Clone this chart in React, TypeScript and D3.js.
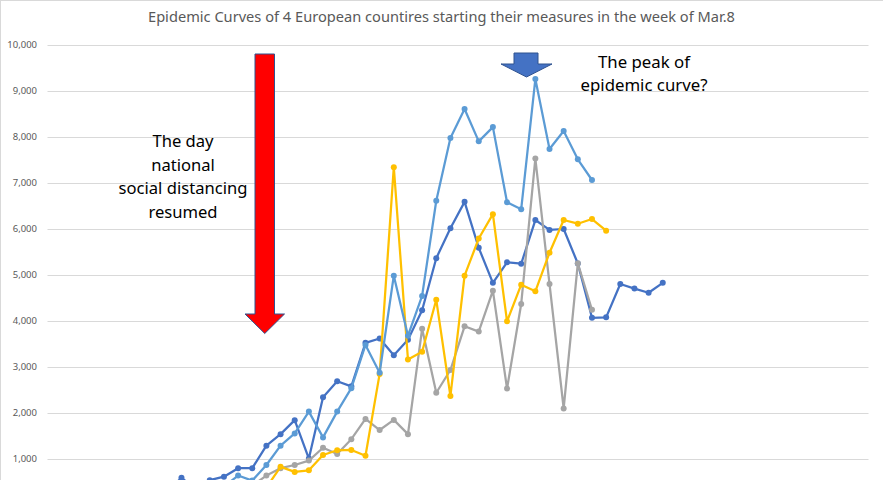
import React from "react";
import * as d3 from "d3";

// 58 daily category slots on the x axis (labels cropped out of the picture)
const days: string[] = d3.range(1, 59).map((d) => String(d));

const seriesDarkBlue: (number | null)[] = [
  null, null, null, null, null, null, null, null, 300, 590, 350, 540, 615, 800, 800, 1290,
  1540, 1845, 1010, 2345, 2690, 2580, 3525, 3620, 3255, 3590, 4235, 5365, 6015, 6590, 5590,
  4830, 5275, 5245, 6195, 5980, 6000, 5250, 4070, 4080, 4805, 4705, 4615, 4830,
];
const seriesGrey: (number | null)[] = [
  null, null, null, null, null, null, null, null, null, null, null, null, null, null, 420, 640,
  800, 870, 965, 1245, 1110, 1430, 1870, 1630, 1850, 1540, 3830, 2440, 2935, 3885, 3770,
  4660, 2530, 4370, 7530, 4805, 2100, 5255, 4245,
];
const seriesYellow: (number | null)[] = [
  null, null, null, null, null, null, null, null, null, null, null, null, null, null, null, 380,
  830, 720, 755, 1087, 1190, 1196, 1072, 2850, 7344, 3163, 3330, 4461, 2370, 4985, 5793,
  6322, 3993, 4789, 4645, 5485, 6196, 6115, 6217, 5963,
];
const seriesLightBlue: (number | null)[] = [
  null, null, null, null, null, null, null, null, null, null, null, null, 400, 640, 530, 870,
  1290, 1555, 2030, 1470, 2030, 2540, 3480, 2875, 4985, 3680, 4545, 6615, 7980, 8610, 7905,
  8215, 6580, 6430, 9260, 7740, 8130, 7515, 7065,
];

const yTicks: number[] = [1000, 2000, 3000, 4000, 5000, 6000, 7000, 8000, 9000, 10000];

const title = "Epidemic Curves of 4 European countires starting their measures in the week of Mar.8";
const leftNote = ["The day", "national", "social distancing", "resumed"];
const rightNote = ["The peak of", "epidemic curve?"];

const seriesList = [
  { values: seriesDarkBlue, color: "#4472C4" },
  { values: seriesGrey, color: "#A5A5A5" },
  { values: seriesYellow, color: "#FFC000" },
  { values: seriesLightBlue, color: "#5B9BD5" },
];

const W = 883;
const H = 480;
const FONT = "'Noto Sans', 'Open Sans', sans-serif";

export default function App() {
  const x = d3.scaleBand<string>().domain(days).range([47, 868]);
  const cx = (i: number) => (x(days[i]) as number) + x.bandwidth() / 2;
  const y = d3.scaleLinear().domain([0, 10000]).range([505, 45]);
  const fmt = d3.format(",");

  const line = d3
    .line<{ i: number; v: number | null }>()
    .defined((d) => d.v !== null)
    .x((d) => cx(d.i))
    .y((d) => y(d.v as number));

  // annotation arrows
  const red = { x0: 255, x1: 274.5, top: 54, headY: 314, tip: 333.5, hx0: 245, hx1: 284.5 };
  const blue = { x0: 514, x1: 538, top: 53, headY: 64, tip: 77, hx0: 501, hx1: 552 };
  const arrowPath = (a: typeof red) => {
    const mid = (a.hx0 + a.hx1) / 2;
    return `M${a.x0},${a.top}H${a.x1}V${a.headY}H${a.hx1}L${mid},${a.tip}L${a.hx0},${a.headY}H${a.x0}Z`;
  };

  return (
    <svg
      width={W}
      height={H}
      style={{ position: "absolute", left: 0, top: 0, background: "#fff" }}
      fontFamily={FONT}
    >
      <rect x={0.5} y={0.5} width={W + 10} height={H + 10} fill="#fff" stroke="#D9D9D9" strokeWidth={1} />
      <text
        x={441.5}
        y={22}
        textAnchor="middle"
        fontSize={14}
        fill="#595959"
        textLength={587}
        lengthAdjust="spacingAndGlyphs"
      >
        {title}
      </text>
      {yTicks.map((t) => (
        <g key={t}>
          <line x1={47.5} x2={868.5} y1={Math.round(y(t)) + 0.5} y2={Math.round(y(t)) + 0.5} stroke="#D9D9D9" strokeWidth={1} />
          <text x={37} y={y(t)} dy="0.35em" textAnchor="end" fontSize={9.5} fill="#595959">
            {fmt(t)}
          </text>
        </g>
      ))}
      {seriesList.map((s, k) => {
        const pts = s.values.map((v, i) => ({ i, v }));
        return (
          <g key={k}>
            <path d={line(pts) || ""} fill="none" stroke={s.color} strokeWidth={2.25} strokeLinejoin="round" />
            {pts
              .filter((p) => p.v !== null)
              .map((p) => (
                <circle key={p.i} cx={cx(p.i)} cy={y(p.v as number)} r={3} fill={s.color} />
              ))}
          </g>
        );
      })}
      <path d={arrowPath(red)} fill="#FF0000" stroke="#2F528F" strokeWidth={1} />
      <path d={arrowPath(blue)} fill="#4472C4" stroke="#2F528F" strokeWidth={1} />
      {leftNote.map((t, i) => (
        <text key={t} x={183} y={147 + i * 23.7} textAnchor="middle" fontSize={16.6} fill="#000">
          {t}
        </text>
      ))}
      {rightNote.map((t, i) => (
        <text key={t} x={644} y={68 + i * 23} textAnchor="middle" fontSize={16.8} fill="#000">
          {t}
        </text>
      ))}
    </svg>
  );
}
